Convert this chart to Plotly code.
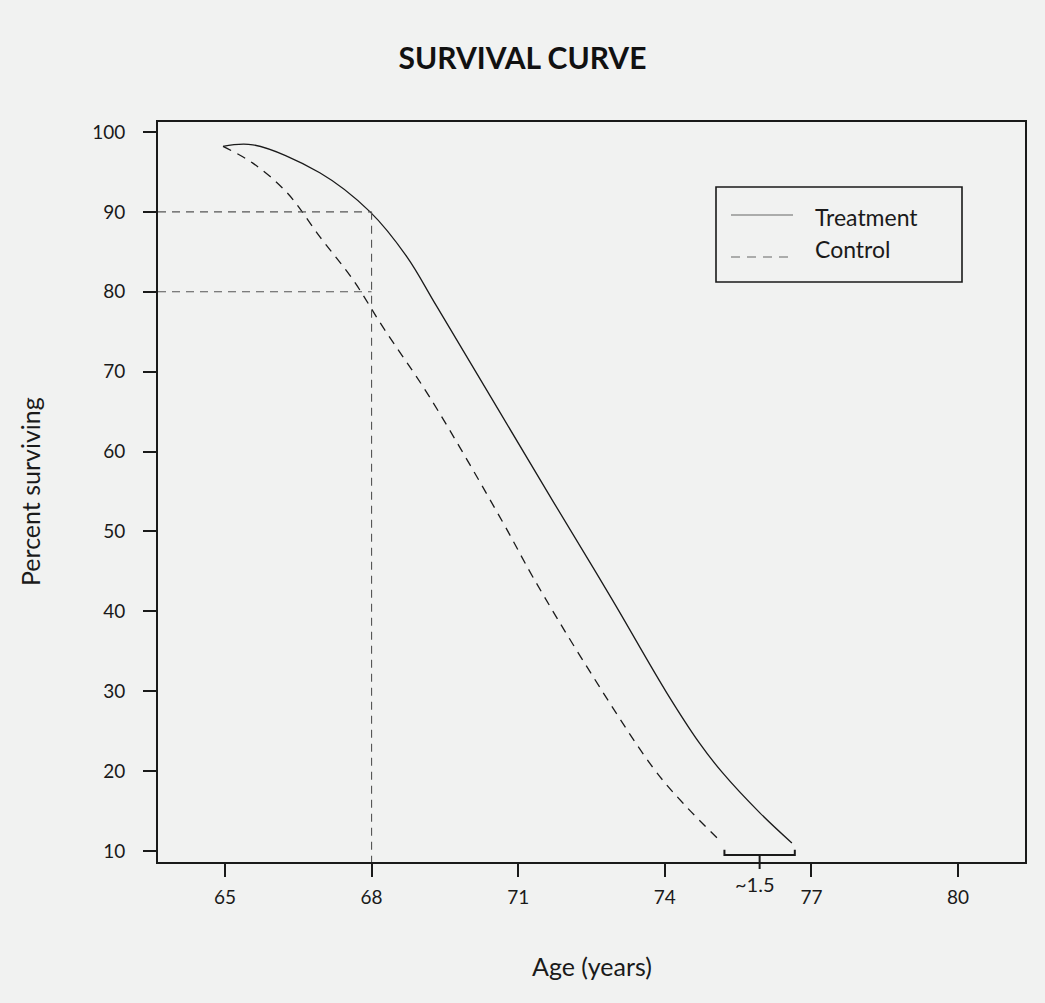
import plotly.graph_objects as go

# Data
treat_age = [64.96, 65.57, 66.94, 67.97, 68.72, 69.34, 71.71, 72.93, 74.04, 74.71, 75.18, 75.94, 76.60]
treat_pct = [98.2, 98.4, 94.9, 90.0, 84.4, 78.1, 53.8, 41.4, 29.8, 23.5, 19.8, 14.8, 11.0]

ctrl_age = [64.96, 65.57, 66.27, 66.94, 67.62, 68.23, 69.19, 70.69, 71.30, 72.32, 73.75, 74.37, 75.16]
ctrl_pct = [98.2, 96.1, 92.4, 86.9, 81.5, 75.6, 66.8, 51.1, 44.3, 33.9, 20.5, 16.0, 11.1]

x_ticks = [65, 68, 71, 74, 77, 80]
y_ticks = [10, 20, 30, 40, 50, 60, 70, 80, 90, 100]
x_range = [63.63, 81.37]
y_range = [8.62, 101.25]

ref_age = 68
ref_levels = [90, 80]
gap_start, gap_end, gap_label = 75.22, 76.66, "~1.5"

BG = "#f1f2f1"
FONT = "Lato, 'Open Sans', sans-serif"
INK = "#1a1a1a"

fig = go.Figure()
fig.add_trace(go.Scatter(x=treat_age, y=treat_pct, mode="lines", name="Treatment",
                         line=dict(color=INK, width=1.3, shape="spline", smoothing=1.0),
                         showlegend=False))
fig.add_trace(go.Scatter(x=ctrl_age, y=ctrl_pct, mode="lines", name="Control",
                         line=dict(color=INK, width=1.3, shape="spline", smoothing=1.0, dash="9px,7px"),
                         showlegend=False))

shapes = []
# reference dashed lines
for lv in ref_levels:
    shapes.append(dict(type="line", xref="x", yref="y", x0=x_range[0], x1=ref_age, y0=lv, y1=lv,
                       line=dict(color="#555555", width=1.1, dash="8px,6px")))
shapes.append(dict(type="line", xref="x", yref="y", x0=ref_age, x1=ref_age, y0=ref_levels[0], y1=y_range[0],
                   line=dict(color="#555555", width=1.1, dash="8px,6px")))
# bracket
br_y = 9.51
br_top = 10.14
mid = (gap_start + gap_end) / 2
shapes.append(dict(type="path", xref="x", yref="y",
                   path=f"M {gap_start} {br_top} L {gap_start} {br_y} L {gap_end} {br_y} L {gap_end} {br_top}",
                   line=dict(color=INK, width=2)))
shapes.append(dict(type="line", xref="x", yref="paper", x0=mid, x1=mid, y0=0.0095, y1=-0.0095,
                   line=dict(color=INK, width=2)))
# legend box
shapes.append(dict(type="rect", xref="paper", yref="paper",
                   x0=(716 - 158) / 867, x1=(962 - 158) / 867,
                   y0=1 - (282 - 122) / 740, y1=1 - (187 - 122) / 740,
                   line=dict(color=INK, width=1.6), fillcolor=BG))
shapes.append(dict(type="line", xref="paper", yref="paper",
                   x0=(731 - 158) / 867, x1=(793 - 158) / 867,
                   y0=1 - (215 - 122) / 740, y1=1 - (215 - 122) / 740,
                   line=dict(color="#666666", width=1.2)))
shapes.append(dict(type="line", xref="paper", yref="paper",
                   x0=(731 - 158) / 867, x1=(793 - 158) / 867,
                   y0=1 - (257 - 122) / 740, y1=1 - (257 - 122) / 740,
                   line=dict(color="#666666", width=1.2, dash="9px,7px")))

annotations = [
    dict(text="Treatment", xref="paper", yref="paper", x=(813 - 158) / 867, y=1 - (217 - 122) / 740,
         xanchor="left", yanchor="middle", showarrow=False, font=dict(family=FONT, size=23, color=INK)),
    dict(text="Control", xref="paper", yref="paper", x=(813 - 158) / 867, y=1 - (249 - 122) / 740,
         xanchor="left", yanchor="middle", showarrow=False, font=dict(family=FONT, size=23, color=INK)),
    dict(text=gap_label, xref="x", yref="paper", x=mid - 0.1, y=-(884 - 862) / 740,
         xanchor="center", yanchor="middle", showarrow=False, font=dict(family=FONT, size=20, color=INK)),
    dict(text="Age (years)", xref="paper", yref="paper", x=0.5, y=-(966 - 862) / 740,
         xanchor="center", yanchor="middle", showarrow=False, font=dict(family=FONT, size=25, color=INK)),
    dict(text="Percent surviving", xref="paper", yref="paper", x=(30 - 158) / 867, y=0.5, textangle=-90,
         xanchor="center", yanchor="middle", showarrow=False, font=dict(family=FONT, size=25, color=INK)),
]

fig.update_layout(
    width=1045, height=1003,
    margin=dict(l=158, r=20, t=122, b=141),
    paper_bgcolor=BG, plot_bgcolor=BG,
    title=dict(text="SURVIVAL CURVE", x=0.5, xref="container", xanchor="center",
               y=1 - 58 / 1003, yref="container", yanchor="middle",
               font=dict(family=FONT, size=30, color="#111111", weight="bold")),
    shapes=shapes, annotations=annotations,
    showlegend=False,
)
axis_common = dict(showgrid=False, zeroline=False, showline=True, mirror=True,
                   linecolor=INK, linewidth=2, ticks="outside", ticklen=13, tickwidth=2,
                   tickcolor=INK, tickfont=dict(family=FONT, size=19, color=INK))
fig.update_xaxes(range=x_range, tickvals=x_ticks, ticktext=[str(v) for v in x_ticks],
                 ticklabelstandoff=4, **axis_common)
fig.update_yaxes(range=y_range, tickvals=y_ticks, ticktext=[str(v) for v in y_ticks],
                 ticklabelstandoff=14, **axis_common)

fig.write_html("out.html", config={"displayModeBar": False},
               post_script="document.body.style.margin='0';document.body.style.background='#f1f2f1';")
